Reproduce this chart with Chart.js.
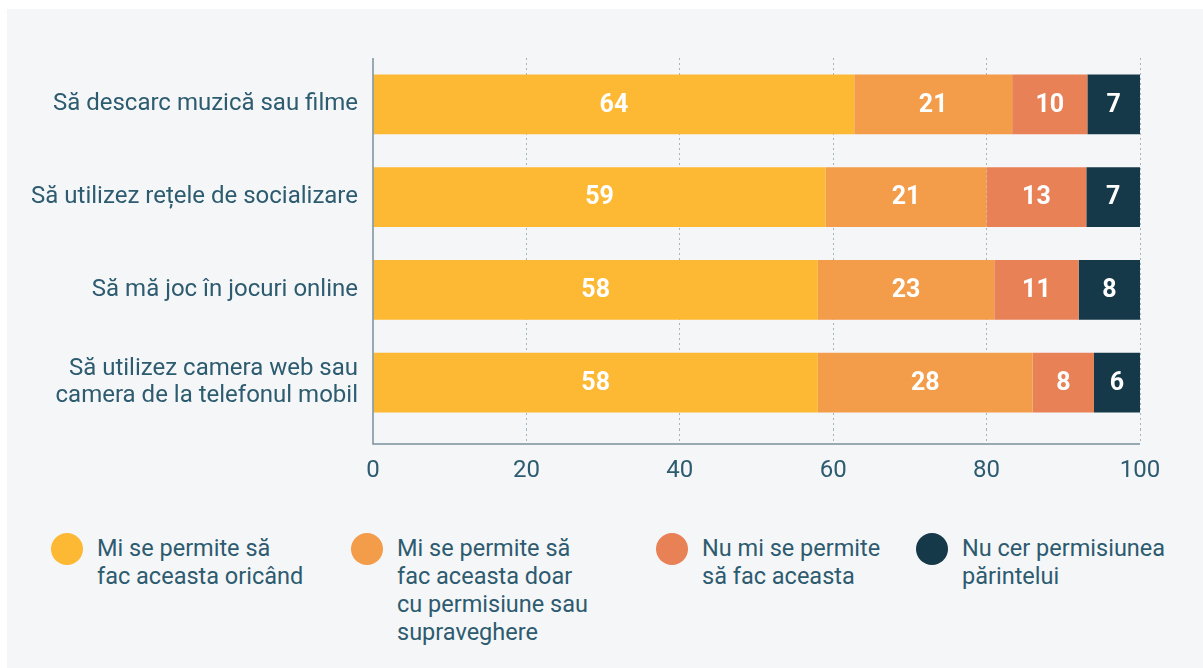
<!DOCTYPE html>
<html>
<head>
<meta charset="utf-8">
<script src="https://cdn.jsdelivr.net/npm/chart.js@4.4.1/dist/chart.umd.min.js"></script>
<style>
    html, body { margin: 0; padding: 0; background: #ffffff; }
    body { width: 1203px; height: 668px; position: relative; overflow: hidden; font-family: Roboto, sans-serif; }
    #panel { position: absolute; left: 7px; top: 9px; right: 0; bottom: 0; background: #f5f6f8; }
    #chartBox { position: absolute; left: 0; top: 0; width: 1203px; height: 520px; }
    #legend { position: absolute; left: 51px; top: 533px; display: flex; }
    .item { display: flex; align-items: flex-start; }
    .dot { width: 32px; height: 32px; border-radius: 50%; flex: none; margin-right: 14px; }
    .txt { font-size: 23.5px; line-height: 28px; color: #2d5b6f; margin-top: 1px; }
</style>
</head>
<body>
<div id="panel"></div>
<div id="chartBox"><canvas id="permChart"></canvas></div>
<div id="legend"></div>

<script>
// categories (multi-line labels as arrays)
var categories = [
    'Să descarc muzică sau filme',
    'Să utilizez rețele de socializare',
    'Să mă joc în jocuri online',
    ['Să utilizez camera web sau', 'camera de la telefonul mobil']
];

// series names (split in lines the way the legend shows them)
var seriesNames = [
    ['Mi se permite să', 'fac aceasta oricând'],
    ['Mi se permite să', 'fac aceasta doar', 'cu permisiune sau', 'supraveghere'],
    ['Nu mi se permite', 'să fac aceasta'],
    ['Nu cer permisiunea', 'părintelui']
];

// values per series, one per category (percent, as printed on the bars)
var anytime = [64, 59, 58, 58];
var withPermission = [21, 21, 23, 28];
var notAllowed = [10, 13, 11, 8];
var noAsk = [7, 7, 8, 6];

var xTicks = [0, 20, 40, 60, 80, 100];

var colors = ['#fdb933', '#f39c4a', '#e98157', '#163949'];
var textColor = '#2d5b6f';

var allSeries = [anytime, withPermission, notAllowed, noAsk];

// each bar is drawn as share of its row total so the rows fill 0-100
function shares(series) {
    return series.map(function(v, i) {
        var total = 0;
        allSeries.forEach(function(s) { total += s[i]; });
        return v / total * 100;
    });
}

// white numbers in the middle of each segment
var barLabels = {
    id: 'barLabels',
    afterDatasetsDraw: function(chart) {
        var ctx = chart.ctx;
        ctx.save();
        ctx.fillStyle = '#ffffff';
        ctx.font = 'bold 25px Roboto';
        ctx.textAlign = 'center';
        ctx.textBaseline = 'middle';
        chart.data.datasets.forEach(function(ds, di) {
            var meta = chart.getDatasetMeta(di);
            meta.data.forEach(function(bar, i) {
                var cx = (bar.x + bar.base) / 2;
                ctx.fillText(String(allSeries[di][i]), cx, bar.y + 1);
            });
        });
        ctx.restore();
    }
};

// solid axis lines, running a bit below the plot area like the original
var axisLines = {
    id: 'axisLines',
    afterDraw: function(chart) {
        var a = chart.chartArea;
        var ctx = chart.ctx;
        ctx.save();
        ctx.strokeStyle = '#7a909b';
        ctx.lineWidth = 1.5;
        ctx.beginPath();
        ctx.moveTo(a.left, a.top);
        ctx.lineTo(a.left, a.bottom + 15);
        ctx.lineTo(a.right, a.bottom + 15);
        ctx.stroke();
        ctx.restore();
    }
};

document.addEventListener('DOMContentLoaded', function() {
    var ctx = document.getElementById('permChart').getContext('2d');

    var datasets = allSeries.map(function(s, i) {
        return {
            label: seriesNames[i].join(' '),
            data: shares(s),
            backgroundColor: colors[i],
            borderWidth: 0,
            barPercentage: 0.645,
            categoryPercentage: 1
        };
    });

    new Chart(ctx, {
        type: 'bar',
        data: { labels: categories, datasets: datasets },
        options: {
            indexAxis: 'y',
            responsive: true,
            maintainAspectRatio: false,
            animation: false,
            layout: { padding: { top: 58, right: 63, left: 0, bottom: 0 } },
            scales: {
                x: {
                    stacked: true,
                    min: 0,
                    max: 100,
                    afterBuildTicks: function(scale) {
                        scale.ticks = xTicks.map(function(v) { return { value: v }; });
                    },
                    afterFit: function(scale) { scale.height = 91; },
                    grid: {
                        color: function(c) { return c.tick && c.tick.value === 0 ? 'rgba(0,0,0,0)' : '#a3b4bc'; },
                        tickColor: function(c) { return c.tick && c.tick.value === 0 ? 'rgba(0,0,0,0)' : '#a3b4bc'; },
                        tickBorderDash: [2, 3],
                        drawTicks: true,
                        tickLength: 14,
                        lineWidth: 1
                    },
                    border: { display: false, dash: [2, 3] },
                    ticks: {
                        color: textColor,
                        font: { family: 'Roboto', size: 24 },
                        padding: 14,
                        maxRotation: 0
                    }
                },
                y: {
                    stacked: true,
                    afterFit: function(scale) { scale.width = 373; },
                    grid: { display: false },
                    border: { display: false },
                    ticks: {
                        color: textColor,
                        font: { family: 'Roboto', size: 24, lineHeight: 1.13 },
                        padding: 7
                    }
                }
            },
            plugins: {
                legend: { display: false },
                tooltip: { enabled: false }
            }
        },
        plugins: [barLabels, axisLines]
    });

    // html legend below the chart
    var legend = document.getElementById('legend');
    var widths = [300, 305, 260, 260];
    seriesNames.forEach(function(lines, i) {
        var item = document.createElement('div');
        item.className = 'item';
        item.style.width = widths[i] + 'px';
        var dot = document.createElement('div');
        dot.className = 'dot';
        dot.style.background = colors[i];
        var txt = document.createElement('div');
        txt.className = 'txt';
        txt.innerHTML = lines.join('<br>');
        item.appendChild(dot);
        item.appendChild(txt);
        legend.appendChild(item);
    });
});
</script>
</body>
</html>
